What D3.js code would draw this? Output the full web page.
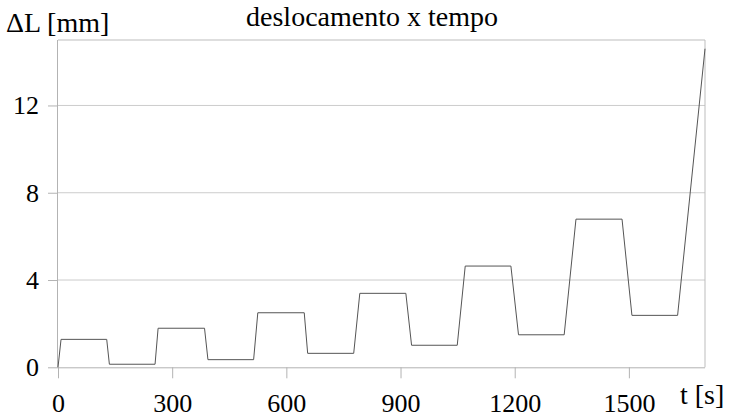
<!DOCTYPE html>
<html>
<head>
<meta charset="utf-8">
<script src="https://cdn.jsdelivr.net/npm/d3@7"></script>
<style>
  html, body { margin: 0; padding: 0; background: #fff; }
  svg { display: block; }
</style>
</head>
<body>
<svg id="chart" width="733" height="419" font-family="'Liberation Serif', 'Times New Roman', serif"></svg>
<script>
// Data (time in s, displacement in mm)
const tValues = [0, 8, 128, 135, 255, 263, 385, 394, 514, 525, 647, 656, 777, 793, 914, 929, 1049, 1070, 1190, 1210, 1330, 1361, 1482, 1508, 1628, 1700];
const dLValues = [0, 1.28, 1.28, 0.14, 0.14, 1.79, 1.79, 0.35, 0.35, 2.50, 2.50, 0.64, 0.64, 3.39, 3.39, 1.01, 1.01, 4.64, 4.64, 1.49, 1.49, 6.79, 6.79, 2.38, 2.38, 14.6];
const xTicks = [0, 300, 600, 900, 1200, 1500];
const yTicks = [0, 4, 8, 12];
const title = "deslocamento x tempo";
const yLabel = "ΔL [mm]";
const xLabel = "t [s]";

const FONT = "'Liberation Serif', 'Times New Roman', serif";
const svg = d3.select("#chart");
const mLeft = 58, mRight = 705, mTop = 40, mBottom = 367.3;

const x = d3.scaleLinear().domain([0, 1700]).range([mLeft, mRight]);
const y = d3.scaleLinear().domain([0, 15]).range([mBottom, mTop]);

// Gridlines
svg.append("g").selectAll("line").data(yTicks.filter(d => d > 0)).join("line")
  .attr("x1", mLeft).attr("x2", mRight)
  .attr("y1", d => y(d)).attr("y2", d => y(d))
  .attr("stroke", "#cccccc").attr("stroke-width", 1);

// Frame top & right
svg.append("line").attr("x1", mLeft).attr("x2", mRight).attr("y1", mTop).attr("y2", mTop)
  .attr("stroke", "#bdbdbd");
svg.append("line").attr("x1", mRight).attr("x2", mRight).attr("y1", mTop).attr("y2", mBottom)
  .attr("stroke", "#bdbdbd");

// X axis
const xAxis = svg.append("g").attr("transform", `translate(0,${mBottom})`)
  .call(d3.axisBottom(x).tickValues(xTicks).tickSize(11).tickPadding(15).tickFormat(d3.format("d")))
  .attr("font-family", FONT).attr("font-size", 26);
xAxis.select(".domain").attr("stroke", "#b3b3b3").attr("d", `M${mLeft},0.5H${mRight}`);
xAxis.selectAll(".tick line").attr("stroke", "#b3b3b3");
xAxis.selectAll(".tick text").attr("fill", "#000");

// Y axis
const yAxis = svg.append("g").attr("transform", `translate(${mLeft},0)`)
  .call(d3.axisLeft(y).tickValues(yTicks).tickSize(10).tickPadding(9).tickFormat(d3.format("d")))
  .attr("font-family", FONT).attr("font-size", 26);
yAxis.select(".domain").attr("stroke", "#b3b3b3").attr("d", `M-0.5,${mTop}V${mBottom}`);
yAxis.selectAll(".tick line").attr("stroke", "#b3b3b3");
yAxis.selectAll(".tick text").attr("fill", "#000");

// Data line
const pts = tValues.map((t, i) => [t, dLValues[i]]);
svg.append("path").datum(pts)
  .attr("fill", "none").attr("stroke", "#555555").attr("stroke-width", 1)
  .attr("d", d3.line().x(d => x(d[0])).y(d => y(d[1])));

// Labels
svg.append("text").attr("x", 372).attr("y", 26).attr("text-anchor", "middle")
  .attr("font-family", FONT).attr("font-size", 28).text(title);
svg.append("text").attr("x", 6).attr("y", 32).attr("text-anchor", "start")
  .attr("font-family", FONT).attr("font-size", 28).text(yLabel);
svg.append("text").attr("x", 680).attr("y", 404).attr("text-anchor", "start")
  .attr("font-family", FONT).attr("font-size", 28).text(xLabel);
</script>
</body>
</html>
